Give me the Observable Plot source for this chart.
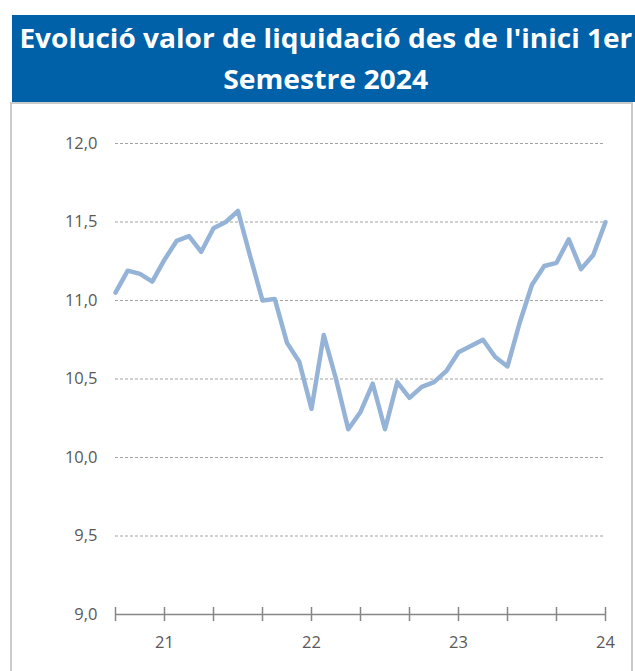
<!DOCTYPE html>
<html>
<head>
<meta charset="utf-8">
<script src="https://cdn.jsdelivr.net/npm/d3@7"></script>
<script src="https://cdn.jsdelivr.net/npm/@observablehq/plot@0.6"></script>
<style>
  html, body { margin: 0; padding: 0; background: #fff; }
  body { width: 635px; height: 671px; overflow: hidden; position: relative; font-family: "Open Sans", sans-serif; }
  #banner { position: absolute; left: 12px; top: 15px; width: 640px; height: 87px; background: #0060a8; }
  #title { position: absolute; left: 0; top: 17px; width: 652px; text-align: center; color: #fff;
           font-family: "Open Sans", sans-serif; font-weight: 700; font-size: 27px; line-height: 41px; white-space: nowrap; }
  #title div span { display: inline-block; transform-origin: center; }
  #box { position: absolute; left: 10px; top: 102px; width: 623px; height: 600px; box-sizing: border-box;
         border: 2px solid #cacaca; background: #fff; }
  #chart { position: absolute; left: 0; top: 0; }
</style>
</head>
<body>
<div id="box"></div>
<div id="banner"></div>
<div id="title"><div><span id="t1">Evolució valor de liquidació des de l'inici 1er</span></div><div><span id="t2">Semestre 2024</span></div></div>
<div id="chart"></div>
<script>
// Data (monthly values)
const values = [
  11.05, 11.19, 11.17, 11.12, 11.26, 11.38, 11.41, 11.31, 11.46, 11.50,
  11.57, 11.28, 11.00, 11.01, 10.73, 10.61, 10.31, 10.78, 10.50, 10.18,
  10.29, 10.47, 10.18, 10.48, 10.38, 10.45, 10.48, 10.55, 10.67, 10.71,
  10.75, 10.64, 10.58, 10.86, 11.10, 11.22, 11.24, 11.39, 11.20, 11.29,
  11.50
];
const xTickPositions = [0, 4, 8, 12, 16, 20, 24, 28, 32, 36, 40];
const xLabelPositions = [4, 16, 28, 40];
const xLabels = ["21", "22", "23", "24"];
const yTicks = [9.0, 9.5, 10.0, 10.5, 11.0, 11.5, 12.0];

const labelMap = new Map(xLabelPositions.map((p, i) => [p, xLabels[i]]));
const data = values.map((v, i) => ({i, v}));

const chart = Plot.plot({
  width: 635,
  height: 671,
  marginLeft: 115,
  marginRight: 30,
  marginTop: 143,
  marginBottom: 57,
  x: {domain: [0, 40], axis: null},
  y: {domain: [9, 12], axis: null},
  style: {background: "transparent", fontFamily: "'Open Sans', sans-serif", overflow: "visible"},
  marks: [
    Plot.ruleY(yTicks.filter(v => v > 9), {stroke: "#a3a3a3", strokeWidth: 1, strokeDasharray: "3,2"}),
    Plot.ruleY([9], {stroke: "#868686", strokeWidth: 1.5}),
    Plot.axisX({ticks: xTickPositions, tickSize: 14, dy: -7, tickFormat: () => "", stroke: "#868686", strokeWidth: 1.5, label: null}),
    Plot.axisX({ticks: xLabelPositions, tickSize: 0, tickPadding: 22, tickFormat: d => labelMap.get(d), fontSize: 16.5, fill: "#595959", label: null}),
    Plot.axisY({ticks: yTicks, tickSize: 0, tickPadding: 18, tickFormat: d => d.toFixed(1).replace(".", ","), fontSize: 16.5, fill: "#595959", label: null}),
    Plot.line(data, {x: "i", y: "v", stroke: "#95b3d7", strokeWidth: 4.5, strokeLinejoin: "round", strokeLinecap: "round"})
  ]
});
document.getElementById("chart").appendChild(chart);

// fit title line widths to the reference
function fit(id, target) {
  const el = document.getElementById(id);
  const w = el.getBoundingClientRect().width;
  el.style.transform = `scaleX(${target / w})`;
}
fit("t1", 613);
fit("t2", 205);
</script>
</body>
</html>
